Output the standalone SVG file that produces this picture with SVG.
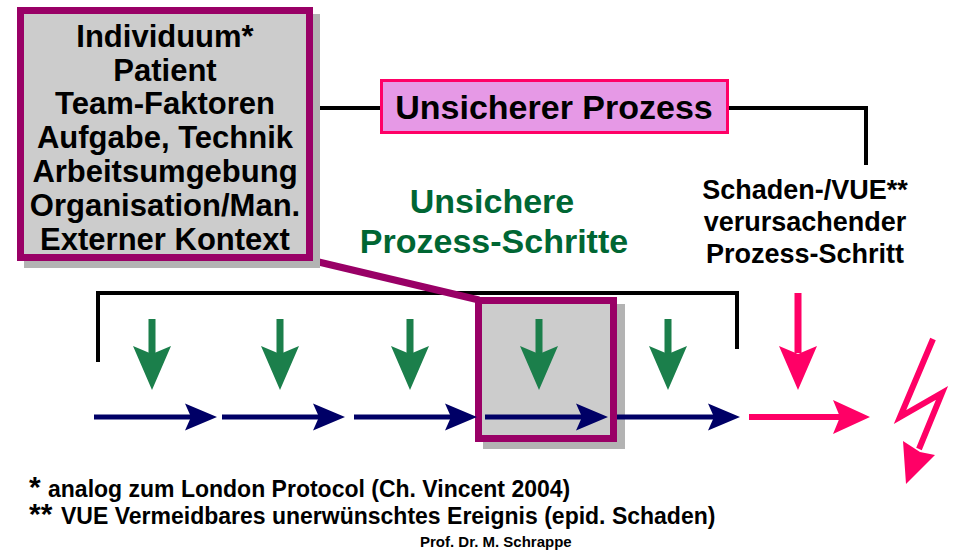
<svg xmlns="http://www.w3.org/2000/svg" width="953" height="551" viewBox="0 0 953 551">
  <style>
    text { font-family: "Liberation Sans", Arial, sans-serif; font-weight: bold; }
    .factors { font-size: 31px; fill: #000; text-anchor: middle; }
    .process { font-size: 34px; fill: #000; text-anchor: middle; }
    .steps { font-size: 34px; fill: #006633; text-anchor: middle; }
    .cause { font-size: 27px; fill: #000; text-anchor: middle; }
    .note { font-size: 23px; fill: #000; }
    .star { font-size: 30px; }
    .author { font-size: 15px; fill: #000; }
    .shadow { fill: #b3b3b3; }
    .frame { fill: #cccccc; stroke: #990066; stroke-width: 7; }
    .link { fill: none; stroke: #000; stroke-width: 4; }
    .green { fill: #1b7f4b; }
    .navy { fill: #000066; }
    .red { fill: #ff0066; }
  </style>
  <defs>
    <!-- downward arrow, tip at (0,0) -->
    <g id="down">
      <rect x="-3.5" y="-71" width="7" height="36"/>
      <polygon points="-19,-44 0,0 19,-44 0,-36"/>
    </g>
    <!-- horizontal step arrow, tip at (0,0) -->
    <g id="step">
      <rect x="-123" y="-2.5" width="100" height="5"/>
      <polygon points="-32,-13.5 0,0 -32,13.5 -26,0"/>
    </g>
  </defs>

  <!-- connectors -->
  <g id="connectors">
    <polyline class="link" points="98,362 98,293 737,293 737,349"/>
    <line class="link" x1="316" y1="108" x2="381" y2="108"/>
    <polyline class="link" points="728,108 866,108 866,165"/>
    <line x1="306" y1="259" x2="479" y2="300" stroke="#990066" stroke-width="7"/>
  </g>

  <!-- contributing factors -->
  <g id="factors">
    <rect class="shadow" x="24" y="14" width="296" height="254"/>
    <rect class="frame" x="20.5" y="10.5" width="289" height="247"/>
    <text class="factors" x="165" y="47">Individuum*</text>
    <text class="factors" x="165" y="81">Patient</text>
    <text class="factors" x="165" y="114">Team-Faktoren</text>
    <text class="factors" x="165" y="148">Aufgabe, Technik</text>
    <text class="factors" x="165" y="182">Arbeitsumgebung</text>
    <text class="factors" x="165" y="216">Organisation/Man.</text>
    <text class="factors" x="165" y="250">Externer Kontext</text>
  </g>

  <!-- unsafe process label -->
  <g id="process">
    <rect x="381.5" y="80.5" width="346" height="52" fill="#e699e6" stroke="#ff0066" stroke-width="3"/>
    <text class="process" x="554" y="119">Unsicherer Prozess</text>
  </g>

  <!-- unsafe steps label -->
  <g id="steps-label">
    <text class="steps" x="492" y="213">Unsichere</text>
    <text class="steps" x="494" y="253">Prozess-Schritte</text>
  </g>

  <!-- harmful step label -->
  <g id="cause-label">
    <text class="cause" x="805" y="199">Schaden-/VUE**</text>
    <text class="cause" x="805" y="231">verursachender</text>
    <text class="cause" x="805" y="263">Prozess-Schritt</text>
  </g>

  <!-- highlighted step -->
  <g id="highlight">
    <rect class="shadow" x="483" y="304" width="142" height="145"/>
    <rect class="frame" x="478.5" y="300.5" width="135" height="138"/>
  </g>

  <!-- process steps -->
  <g id="step-arrows">
    <use href="#down" class="green" x="152" y="390"/>
    <use href="#down" class="green" x="280" y="390"/>
    <use href="#down" class="green" x="410" y="390"/>
    <use href="#down" class="green" x="539" y="390"/>
    <use href="#down" class="green" x="668" y="390"/>
    <use href="#step" class="navy" x="217" y="417"/>
    <use href="#step" class="navy" x="345" y="417"/>
    <use href="#step" class="navy" x="477" y="417"/>
    <use href="#step" class="navy" x="608" y="417"/>
    <use href="#step" class="navy" x="740" y="417"/>
  </g>

  <!-- harmful step and event -->
  <g id="harm">
    <rect class="red" x="794.5" y="293" width="7" height="60"/>
    <polygon class="red" points="779,346 798,390 817,346 798,354"/>
    <rect class="red" x="749" y="414" width="95" height="6"/>
    <polygon class="red" points="833,400 870,417 833,434 840,417"/>
    <polyline points="933,339 900,417 942,393 919,449" fill="none" stroke="#ff0066" stroke-width="6" stroke-linejoin="miter"/>
    <polygon class="red" points="903,441 906,484 935,455 920,452"/>
  </g>

  <!-- footnotes -->
  <g id="notes">
    <text class="note" x="29" y="497"><tspan class="star">*</tspan><tspan x="48">analog zum London Protocol (Ch. Vincent 2004)</tspan></text>
    <text class="note" x="29" y="524"><tspan class="star">**</tspan><tspan x="61">VUE Vermeidbares unerwünschtes Ereignis (epid. Schaden)</tspan></text>
    <text class="author" x="420" y="547">Prof. Dr. M. Schrappe</text>
  </g>
</svg>
